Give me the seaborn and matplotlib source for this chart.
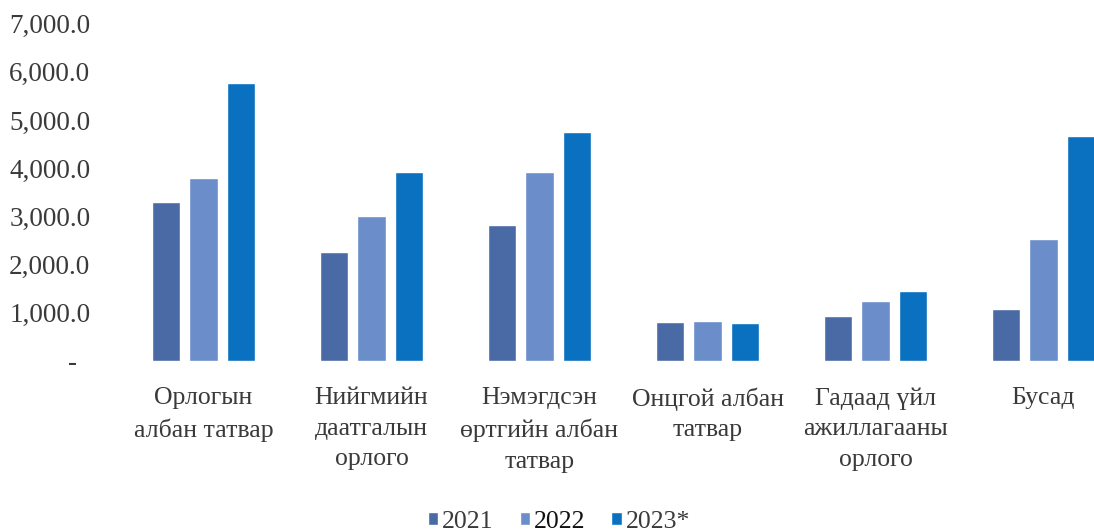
import pandas as pd
import matplotlib.pyplot as plt
import seaborn as sns
from matplotlib.ticker import FuncFormatter

sns.set_theme(style="white")
plt.rcParams['font.family'] = ['Liberation Serif', 'DejaVu Serif']
SERIF = ['Liberation Serif', 'DejaVu Serif']

categories = ["Орлогын\nалбан татвар", "Нийгмийн\nдаатгалын\nорлого",
              "Нэмэгдсэн\nөртгийн албан\nтатвар", "Онцгой албан\nтатвар",
              "Гадаад үйл\nажиллагааны\nорлого", "Бусад"]
years = ["2021", "2022", "2023*"]
v2021 = [3300, 2260, 2820, 810, 930, 1080]
v2022 = [3800, 3010, 3920, 830, 1245, 2530]
v2023 = [5770, 3920, 4750, 790, 1450, 4670]
colors = ["#4a6aa6", "#6b8eca", "#0a70c0"]

df = pd.DataFrame({
    "category": categories * 3,
    "year": [y for y in years for _ in categories],
    "value": v2021 + v2022 + v2023,
})

fig = plt.figure(figsize=(10.94, 5.31), dpi=100)
ax = fig.add_axes([119.5 / 1094, 1 - 361 / 531, 1008 / 1094, 337.4 / 531])
sns.barplot(data=df, x="category", y="value", hue="year", palette=colors,
            saturation=1, width=0.67, gap=0.24, ax=ax)

ax.set_ylim(0, 7000)
ax.set_xlim(-0.5, 5.5)
ax.set_yticks(range(0, 7001, 1000))
ax.yaxis.set_major_formatter(FuncFormatter(lambda v, p: "-  " if v == 0 else f"{v:,.1f}"))
ax.set_xlabel("")
ax.set_ylabel("")
for s in ax.spines.values():
    s.set_visible(False)
ax.tick_params(axis="y", length=0, pad=21, labelsize=19.5, labelcolor="#3a3a3a")
ax.tick_params(axis="x", length=0, pad=19, labelsize=18.5, labelcolor="#3a3a3a")
for t in ax.get_xticklabels():
    t.set_linespacing(1.5)
    t.set_fontfamily(SERIF)
for t in ax.get_yticklabels():
    t.set_fontfamily(SERIF)
ax.grid(False)

handles, labels = ax.get_legend_handles_labels()
ax.get_legend().remove()
leg = fig.legend(handles, labels, loc="center", bbox_to_anchor=(0.511, 1 - 522 / 531),
                 ncol=3, frameon=False, fontsize=18.5, handlelength=0.42, handleheight=0.42,
                 handletextpad=0.15, columnspacing=1.0)
for i, t in enumerate(leg.get_texts()):
    t.set_fontfamily(SERIF)
    t.set_color("#111111" if i == 1 else "#3a3a3a")

fig.savefig("out.png", dpi=100)
